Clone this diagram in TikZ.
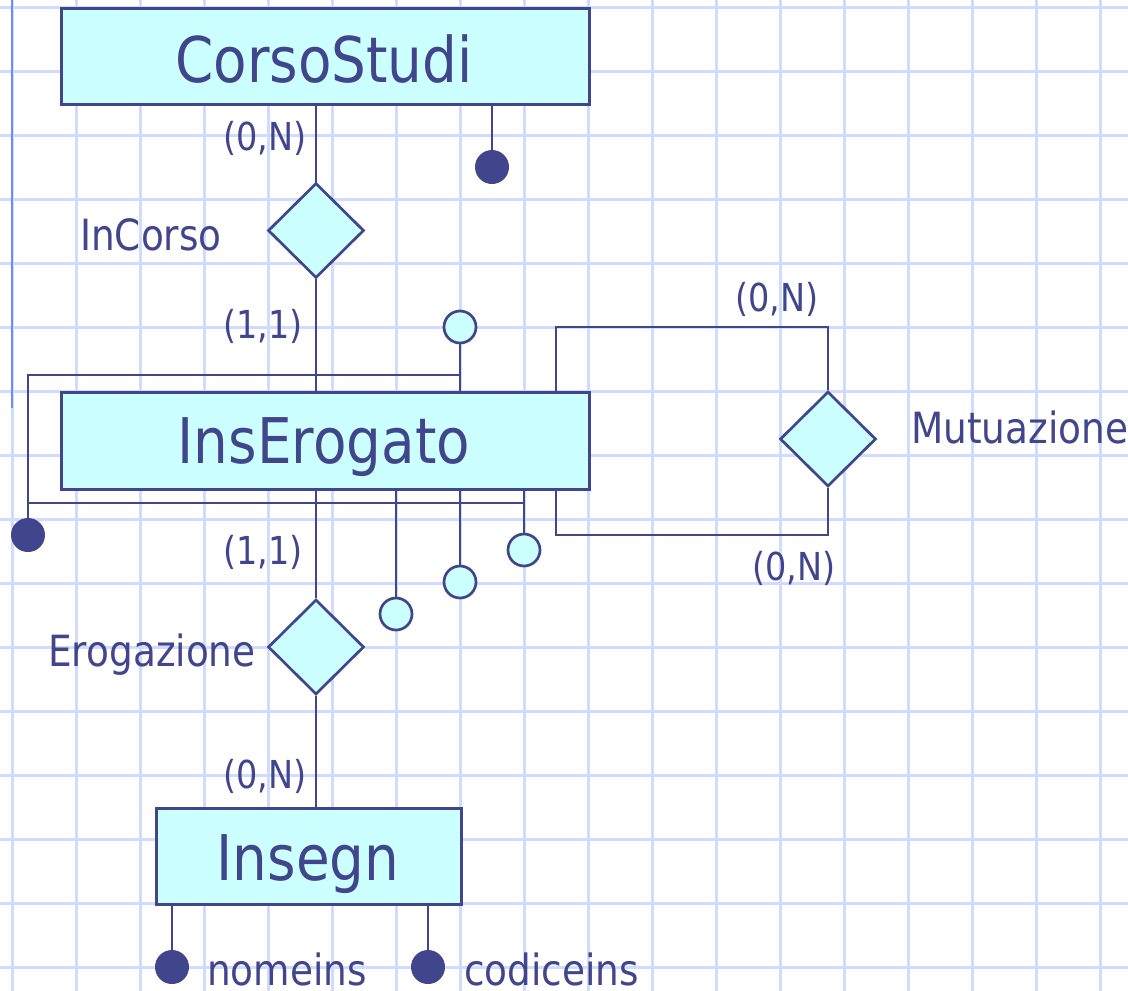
\documentclass[tikz,border=0pt]{standalone}
\usepackage{fontspec}
\setmainfont{DejaVu Sans}[FakeStretch=0.87]
\usetikzlibrary{shapes.geometric}
\definecolor{ink}{RGB}{65,70,140}
\definecolor{fillc}{RGB}{204,255,255}
\definecolor{gridc}{RGB}{208,220,255}
\definecolor{brightc}{RGB}{110,140,255}
\begin{document}
\begin{tikzpicture}[x=1pt,y=-1pt,
  conn/.style={draw=ink, line width=2.7pt},
  ent/.style={draw=ink, fill=fillc, line width=2.7pt, inner sep=0, anchor=north west},
  rel/.style={diamond, draw=ink, fill=fillc, line width=2.7pt, inner sep=0, minimum width=96pt, minimum height=95pt},
  attr/.style={circle, draw=ink, fill=fillc, line width=2.7pt, inner sep=0, minimum size=32pt},
  keyattr/.style={circle, fill=ink, inner sep=0, minimum size=34pt},
  ename/.style={text=ink, inner sep=0, anchor=base, font=\fontsize{63}{70}\selectfont},
  lbl/.style={text=ink, inner sep=0, anchor=base west, font=\fontsize{43}{50}\selectfont},
  card/.style={text=ink, inner sep=0, anchor=base west, font=\fontsize{38.5}{45}\selectfont}]
\clip (0,0) rectangle (1128,991);
\fill[white] (0,0) rectangle (1128,991);
% grid
\foreach \i in {0,...,17} \draw[gridc, line width=3pt] (12+64*\i,0) -- (12+64*\i,991);
\foreach \j in {0,...,15} \draw[gridc, line width=3pt] (0,7+64*\j) -- (1128,7+64*\j);
\draw[brightc, line width=2.6pt] (12,0) -- (12,408);

% entities
\node[ent, minimum width=528pt, minimum height=96pt] (cs) at (60,7) {};
\node[ename] (cst) at (324,82) {CorsoStudi};
\node[ent, minimum width=528pt, minimum height=97pt] (ie) at (60,391) {};
\node[ent, minimum width=305pt, minimum height=96pt] (ins) at (155,807) {};

% relationships
\node[rel] (incorso) at (316,230.5) {};
\node[rel] (erog) at (316,647) {};
\node[rel] (mut) at (828,439) {};

% attributes
\node[keyattr] (k1) at (492,167) {};
\node[attr] (a1) at (460,327) {};
\node[keyattr] (k2) at (28,535) {};
\node[attr] (a2) at (396,614) {};
\node[attr] (a3) at (460,582) {};
\node[attr] (a4) at (524,550) {};
\node[keyattr] (k3) at (172,967) {};
\node[keyattr] (k4) at (428,967) {};

% coordinates
\coordinate (p1) at (460,375);
\coordinate (p2) at (28,375);
\coordinate (p3) at (28,503);
\coordinate (p4) at (524,503);
\coordinate (mt) at (828,327);
\coordinate (mtl) at (556,327);
\coordinate (mb) at (828,535);
\coordinate (mbl) at (556,535);

% connectors
\draw[conn] (incorso.north |- cs.south) -- (incorso.north);
\draw[conn] (incorso.south) -- (incorso.south |- ie.north);
\draw[conn] (k1.north) -- (k1.north |- cs.south);
\draw[conn] (a1.south) -- (a1.south |- ie.north);
\draw[conn] (p1) -- (p2) -- (k2.north);
\draw[conn] (p3) -- (p4);
\draw[conn] (a2.north) -- (a2.north |- ie.south);
\draw[conn] (a3.north) -- (a3.north |- ie.south);
\draw[conn] (a4.north) -- (a4.north |- ie.south);
\draw[conn] (erog.north) -- (erog.north |- ie.south);
\draw[conn] (erog.south) -- (erog.south |- ins.north);
\draw[conn] (k3.north) -- (k3.north |- ins.south);
\draw[conn] (k4.north) -- (k4.north |- ins.south);
\draw[conn] (mut.north) -- (mt) -- (mtl) -- (mtl |- ie.north);
\draw[conn] (mut.south) -- (mb) -- (mbl) -- (mbl |- ie.south);

% entity names
\node[ename] (iet) at (324,463) {InsErogato};
\node[ename] (inst) at (308,880) {Insegn};

% labels
\node[lbl] (l1) at (80,250.5) {InCorso};
\node[lbl] (l2) at (48,666.5) {Erogazione};
\node[lbl] (l3) at (911,443) {Mutuazione};
\node[lbl] (l4) at (207,985) {nomeins};
\node[lbl] (l5) at (464,985) {codiceins};
\node[card] (c1) at (223,150) {(0,N)};
\node[card] (c2) at (223,338) {(1,1)};
\node[card] (c3) at (223,564) {(1,1)};
\node[card] (c4) at (223,788) {(0,N)};
\node[card] (c5) at (735,311) {(0,N)};
\node[card] (c6) at (752,580) {(0,N)};
\end{tikzpicture}
\end{document}
